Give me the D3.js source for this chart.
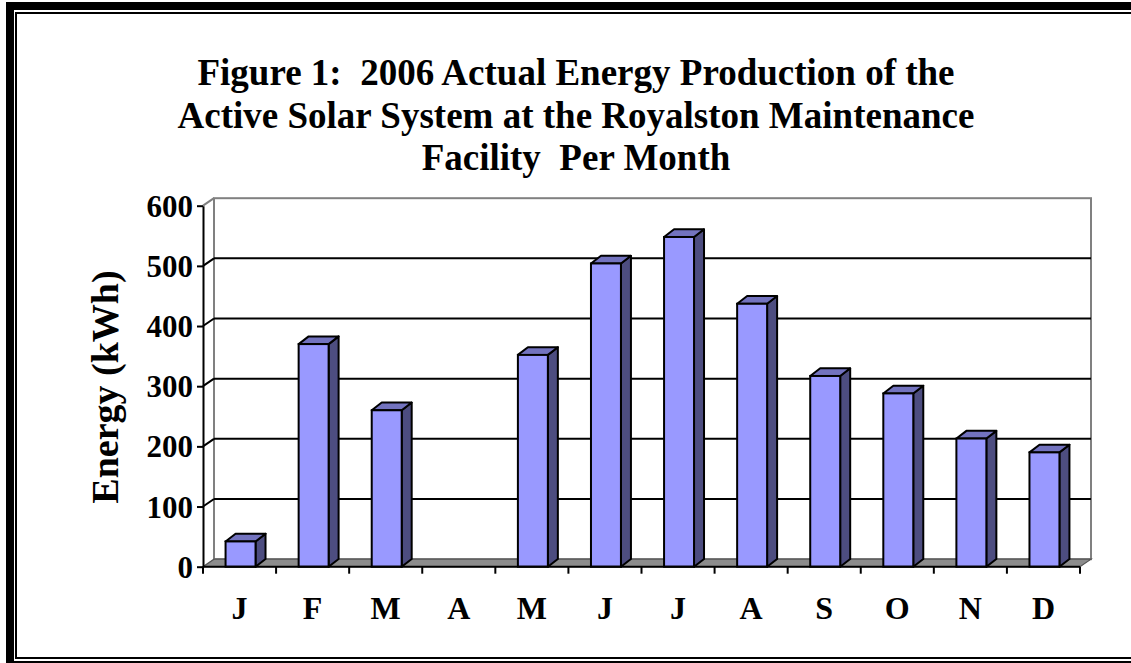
<!DOCTYPE html>
<html>
<head>
<meta charset="utf-8">
<script src="https://cdn.jsdelivr.net/npm/d3@7"></script>
<style>
  html, body { margin: 0; padding: 0; background: #fff; }
  svg { display: block; }
  text { font-family: "Liberation Serif", "Times New Roman", serif; font-weight: bold; fill: #000; }
</style>
</head>
<body>
<svg id="chart" width="1131" height="663"></svg>
<script>
// Monthly energy production, 2006 (kWh)
const months = ["J", "F", "M", "A", "M", "J", "J", "A", "S", "O", "N", "D"];
const energy = [42, 370, 260, 0, 352, 504, 548, 437, 317, 288, 213, 190];
const yTicks = [0, 100, 200, 300, 400, 500, 600];
const titleLines = [
  "Figure 1:  2006 Actual Energy Production of the",
  "Active Solar System at the Royalston Maintenance",
  "Facility  Per Month"
];
const yLabel = "Energy (kWh)";

(function draw() {
  const svg = d3.select("#chart");
  const W = 1131, H = 663;

  // page border: thick outer rule with a thin inner rule
  svg.append("rect").attr("x", 10).attr("y", 6).attr("width", W + 20).attr("height", H + 2 - 6)
    .attr("fill", "none").attr("stroke", "#000").attr("stroke-width", 8);
  svg.append("rect").attr("x", 16).attr("y", 13).attr("width", W + 20).attr("height", 658 - 13)
    .attr("fill", "none").attr("stroke", "#000").attr("stroke-width", 2);

  // plot geometry (front plane + depth offset for the 3-D look)
  const plotL = 203, plotR = 1080, plotT = 205.7, plotB = 566.7;
  const wallDx = 11, wallDy = -7.5;
  const barDx = 10, barDy = -7.7;

  const x = d3.scaleBand().domain(d3.range(months.length)).range([plotL, plotR]).paddingInner(0).paddingOuter(0);
  const y = d3.scaleLinear().domain([0, 600]).range([plotB, plotT]);

  // title
  const title = svg.append("text").attr("text-anchor", "middle").style("font-size", "37px")
    .attr("xml:space", "preserve").style("white-space", "pre");
  titleLines.forEach((t, i) => {
    title.append("tspan").attr("x", 576).attr("y", 85 + i * 42.5).text(t);
  });

  const g = svg.append("g");

  // back wall
  const wallL = plotL + wallDx, wallR = plotR + wallDx;
  g.append("rect").attr("x", wallL).attr("y", y(600) + wallDy)
    .attr("width", wallR - wallL).attr("height", y(0) - y(600))
    .attr("fill", "#fff").attr("stroke", "#808080").attr("stroke-width", 2);

  // gridlines on back wall plus their diagonals along the left side wall
  yTicks.filter(v => v > 0 && v < 600).forEach(v => {
    g.append("line").attr("x1", wallL).attr("x2", wallR)
      .attr("y1", y(v) + wallDy).attr("y2", y(v) + wallDy)
      .attr("stroke", "#000").attr("stroke-width", 2);
    g.append("line").attr("x1", plotL).attr("y1", y(v))
      .attr("x2", wallL).attr("y2", y(v) + wallDy)
      .attr("stroke", "#000").attr("stroke-width", 2);
  });
  g.append("line").attr("x1", plotL).attr("y1", y(600))
    .attr("x2", wallL).attr("y2", y(600) + wallDy)
    .attr("stroke", "#808080").attr("stroke-width", 2);

  // floor
  const floorPts = [[plotL, y(0)], [plotR, y(0)], [plotR + wallDx, y(0) + wallDy], [plotL + wallDx, y(0) + wallDy]];
  g.append("polygon").attr("points", floorPts.map(p => p.join(",")).join(" "))
    .attr("fill", "#8c8c8c").attr("stroke", "#555").attr("stroke-width", 1.2);

  // bars
  const barW = x.bandwidth() * 0.41;
  const poly = pts => pts.map(p => p.join(",")).join(" ");
  const bars = g.selectAll("g.bar").data(energy.map((v, i) => ({ v, i })).filter(d => d.v > 0))
    .join("g").attr("class", "bar");
  bars.each(function (d) {
    const gb = d3.select(this);
    const cx = x(d.i) + x.bandwidth() / 2 + 1;
    const x0 = cx - barW / 2, x1 = cx + barW / 2;
    const yt = y(d.v), yb = y(0);
    gb.append("polygon")
      .attr("points", poly([[x1, yt], [x1 + barDx, yt + barDy], [x1 + barDx, yb + barDy], [x1, yb]]))
      .attr("fill", "#4d4d80").attr("stroke", "#000").attr("stroke-width", 2).attr("stroke-linejoin", "round");
    gb.append("polygon")
      .attr("points", poly([[x0, yt], [x1, yt], [x1 + barDx, yt + barDy], [x0 + barDx, yt + barDy]]))
      .attr("fill", "#7373bf").attr("stroke", "#000").attr("stroke-width", 2).attr("stroke-linejoin", "round");
    gb.append("rect").attr("x", x0).attr("y", yt).attr("width", barW).attr("height", yb - yt)
      .attr("fill", "#9999ff").attr("stroke", "#000").attr("stroke-width", 2);
  });

  // y axis
  const yAxis = svg.append("g").attr("transform", `translate(${plotL},0)`)
    .call(d3.axisLeft(y).tickValues(yTicks).tickSize(6).tickSizeOuter(0).tickPadding(4));
  yAxis.select(".domain").attr("stroke", "#000").attr("stroke-width", 2);
  yAxis.selectAll(".tick line").attr("stroke", "#000").attr("stroke-width", 2);
  yAxis.selectAll(".tick text").style("font-size", "31px").style("font-family", "Liberation Serif, serif")
    .style("font-weight", "bold").attr("dy", "0.34em");

  // x axis line with ticks at category boundaries
  svg.append("line").attr("x1", plotL).attr("x2", plotR).attr("y1", y(0)).attr("y2", y(0))
    .attr("stroke", "#000").attr("stroke-width", 2);
  svg.selectAll("line.xtick").data(d3.range(months.length + 1)).join("line").attr("class", "xtick")
    .attr("x1", i => plotL + i * x.step()).attr("x2", i => plotL + i * x.step())
    .attr("y1", y(0)).attr("y2", y(0) + 7)
    .attr("stroke", "#000").attr("stroke-width", 2);

  // category labels
  const xAxis = svg.append("g").attr("transform", `translate(0,${y(0)})`)
    .call(d3.axisBottom(x).tickFormat(i => months[i]).tickSize(0).tickPadding(30));
  xAxis.select(".domain").remove();
  xAxis.selectAll(".tick text").style("font-size", "32px").style("font-family", "Liberation Serif, serif")
    .style("font-weight", "bold");

  // y axis title
  svg.append("text").attr("transform", "translate(118,387) rotate(-90)")
    .attr("text-anchor", "middle").style("font-size", "38px").text(yLabel);
})();
</script>
</body>
</html>
